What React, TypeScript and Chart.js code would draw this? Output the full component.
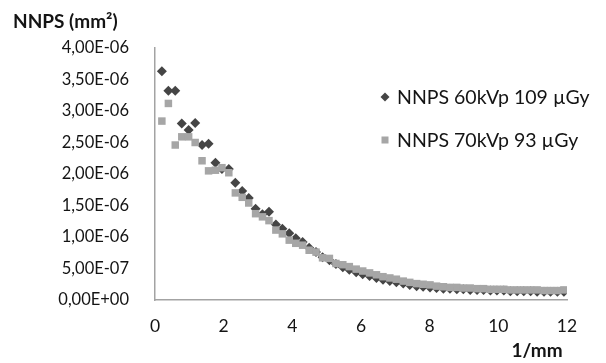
import React, { useEffect, useRef } from "react";
import { Chart, registerables } from "chart.js";

Chart.register(...registerables);

const frequencies = [
  0.2, 0.39, 0.59, 0.78, 0.98, 1.17, 1.37, 1.56, 1.76, 1.95,
  2.15, 2.34, 2.54, 2.73, 2.93, 3.13, 3.32, 3.52, 3.71, 3.91,
  4.1, 4.3, 4.49, 4.69, 4.88, 5.08, 5.27, 5.47, 5.66, 5.86,
  6.05, 6.25, 6.45, 6.64, 6.84, 7.03, 7.23, 7.42, 7.62, 7.81,
  8.01, 8.2, 8.4, 8.59, 8.79, 8.98, 9.18, 9.38, 9.57, 9.77,
  9.96, 10.16, 10.35, 10.55, 10.74, 10.94, 11.13, 11.33, 11.52, 11.72,
  11.91,
];

const nnps60 = [
  3.63e-6, 3.32e-6, 3.32e-6, 2.8e-6, 2.7e-6, 2.81e-6, 2.46e-6, 2.48e-6, 2.18e-6, 2.08e-6,
  2.08e-6, 1.86e-6, 1.73e-6, 1.62e-6, 1.45e-6, 1.36e-6, 1.4e-6, 1.2e-6, 1.13e-6, 1.06e-6,
  0.98e-6, 0.92e-6, 0.83e-6, 0.76e-6, 0.68e-6, 0.63e-6, 0.57e-6, 0.52e-6, 0.48e-6, 0.44e-6,
  0.41e-6, 0.38e-6, 0.35e-6, 0.32e-6, 0.3e-6, 0.28e-6, 0.26e-6, 0.24e-6, 0.22e-6, 0.21e-6,
  0.2e-6, 0.19e-6, 0.18e-6, 0.18e-6, 0.17e-6, 0.17e-6, 0.16e-6, 0.16e-6, 0.16e-6, 0.15e-6,
  0.15e-6, 0.15e-6, 0.14e-6, 0.14e-6, 0.14e-6, 0.14e-6, 0.13e-6, 0.13e-6, 0.13e-6, 0.13e-6,
  0.13e-6,
];

const nnps70 = [
  2.84e-6, 3.12e-6, 2.46e-6, 2.59e-6, 2.59e-6, 2.5e-6, 2.21e-6, 2.05e-6, 2.06e-6, 2.1e-6,
  2.02e-6, 1.7e-6, 1.63e-6, 1.54e-6, 1.37e-6, 1.32e-6, 1.26e-6, 1.11e-6, 1.05e-6, 0.95e-6,
  0.9e-6, 0.87e-6, 0.79e-6, 0.76e-6, 0.67e-6, 0.66e-6, 0.58e-6, 0.56e-6, 0.53e-6, 0.49e-6,
  0.46e-6, 0.43e-6, 0.4e-6, 0.37e-6, 0.35e-6, 0.33e-6, 0.3e-6, 0.28e-6, 0.26e-6, 0.25e-6,
  0.24e-6, 0.22e-6, 0.21e-6, 0.2e-6, 0.2e-6, 0.19e-6, 0.19e-6, 0.18e-6, 0.18e-6, 0.17e-6,
  0.17e-6, 0.17e-6, 0.16e-6, 0.16e-6, 0.16e-6, 0.16e-6, 0.16e-6, 0.15e-6, 0.15e-6, 0.15e-6,
  0.16e-6,
];

const seriesLabels = ["NNPS 60kVp 109 µGy", "NNPS 70kVp 93 µGy"];
const xTickValues = [0, 2, 4, 6, 8, 10, 12];
const yTickValues = [0, 5e-7, 1e-6, 1.5e-6, 2e-6, 2.5e-6, 3e-6, 3.5e-6, 4e-6];
const yAxisTitle = "NNPS (mm²)";
const xAxisTitle = "1/mm";

const DARK = "#454545";
const GREY = "#a6a6a6";
const TEXT = "#141414";
const AXIS = "#a3a3a3";
const FONT = "Lato, 'Open Sans', sans-serif";

function formatSci(v: number): string {
  const [m, e] = v.toExponential(2).split("e");
  const sign = e[0] === "-" ? "-" : "+";
  const digits = e.replace(/[+-]/, "").padStart(2, "0");
  return m.replace(".", ",") + "E" + sign + digits;
}

const overlayPlugin = {
  id: "overlay",
  afterDraw(chart: any) {
    const { ctx, chartArea } = chart;
    ctx.save();
    ctx.fillStyle = TEXT;
    ctx.textBaseline = "middle";
    ctx.font = `bold 19px ${FONT}`;
    ctx.textAlign = "left";
    ctx.fillText(yAxisTitle, 13, 22);
    ctx.textAlign = "center";
    ctx.fillText(xAxisTitle, chartArea.right - 30, 351);

    // legend
    const lx = chartArea.left + 230;
    const ly = [chartArea.top + 49, chartArea.top + 92];
    ctx.font = `19.5px ${FONT}`;
    ctx.textAlign = "left";
    ctx.fillStyle = DARK;
    ctx.beginPath();
    ctx.moveTo(lx, ly[0] - 4.5);
    ctx.lineTo(lx + 4.5, ly[0]);
    ctx.lineTo(lx, ly[0] + 4.5);
    ctx.lineTo(lx - 4.5, ly[0]);
    ctx.closePath();
    ctx.fill();
    ctx.fillStyle = GREY;
    ctx.fillRect(lx - 3.5, ly[1] - 3.5, 7, 7);
    ctx.fillStyle = TEXT;
    ctx.fillText(seriesLabels[0], lx + 12, ly[0] + 1);
    ctx.fillText(seriesLabels[1], lx + 12, ly[1] + 1);
    ctx.restore();
  },
};

export default function App() {
  const canvasRef = useRef<HTMLCanvasElement | null>(null);

  useEffect(() => {
    document.body.style.margin = "0";
    const canvas = canvasRef.current;
    if (!canvas) return;
    const chart = new Chart(canvas, {
      type: "scatter",
      data: {
        datasets: [
          {
            label: seriesLabels[0],
            data: frequencies.map((x, i) => ({ x, y: nnps60[i] })),
            pointStyle: "rectRot",
            pointRadius: 5,
            pointHoverRadius: 5,
            backgroundColor: DARK,
            borderColor: DARK,
            borderWidth: 0,
            order: 2,
          },
          {
            label: seriesLabels[1],
            data: frequencies.map((x, i) => ({ x, y: nnps70[i] })),
            pointStyle: "rect",
            pointRadius: 5.3,
            pointHoverRadius: 5.3,
            backgroundColor: GREY,
            borderColor: GREY,
            borderWidth: 0,
            order: 1,
          },
        ],
      },
      options: {
        animation: false,
        responsive: false,
        maintainAspectRatio: false,
        layout: { padding: { left: 0, top: 48, right: 39, bottom: 0 } },
        plugins: {
          legend: { display: false },
          tooltip: { enabled: false },
        },
        scales: {
          x: {
            type: "linear",
            min: 0,
            max: 12,
            afterBuildTicks: (scale: any) => {
              scale.ticks = xTickValues.map((v) => ({ value: v }));
            },
            afterFit: (scale: any) => {
              scale.height = 63;
            },
            grid: { display: false, drawTicks: false },
            border: { display: true, color: AXIS, width: 1.5 },
            ticks: {
              padding: 16,
              color: TEXT,
              font: { family: FONT, size: 17.5 },
              maxRotation: 0,
              callback: (v: any) => String(v),
            },
          },
          y: {
            type: "linear",
            min: 0,
            max: 4e-6,
            afterBuildTicks: (scale: any) => {
              scale.ticks = yTickValues.map((v) => ({ value: v }));
            },
            afterFit: (scale: any) => {
              scale.width = 155;
            },
            grid: { display: false, drawTicks: false },
            border: { display: true, color: AXIS, width: 1.5 },
            ticks: {
              padding: 26,
              color: TEXT,
              font: { family: FONT, size: 16.5 },
              callback: (v: any) => formatSci(Number(v)),
            },
          },
        },
      },
      plugins: [overlayPlugin],
    });
    return () => chart.destroy();
  }, []);

  return (
    <div style={{ width: 606, height: 363 }}>
      <canvas ref={canvasRef} width={606} height={363} style={{ display: "block" }} />
    </div>
  );
}
